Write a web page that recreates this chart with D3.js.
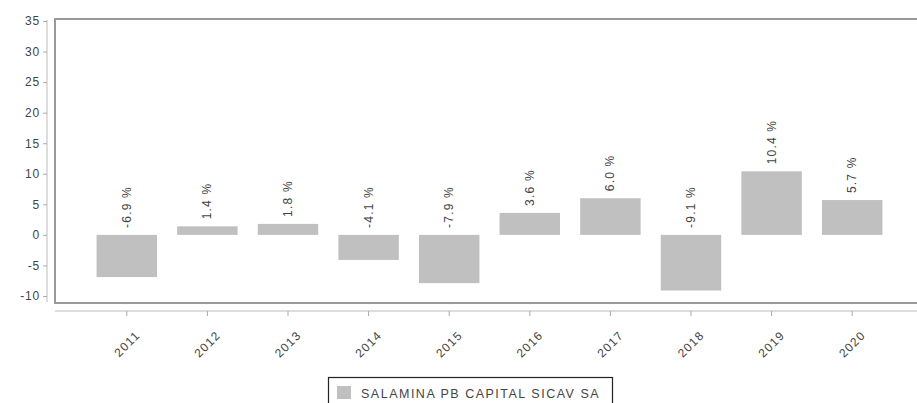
<!DOCTYPE html>
<html><head><meta charset="utf-8">
<script src="https://cdn.jsdelivr.net/npm/d3@7"></script>
<style>
body{margin:0;background:#fff;}
text{font-family:"Liberation Sans",Arial,sans-serif;fill:#444;}
</style></head>
<body>
<svg id="c" width="917" height="403"></svg>
<script>
const categories = ["2011","2012","2013","2014","2015","2016","2017","2018","2019","2020"];
const values = [-6.9, 1.4, 1.8, -4.1, -7.9, 3.6, 6.0, -9.1, 10.4, 5.7];
const yTicks = [-10,-5,0,5,10,15,20,25,30,35];
const seriesName = "SALAMINA PB CAPITAL SICAV SA";

const svg = d3.select("#c");
const y = d3.scaleLinear().domain([-10,35]).range([296,21]);
const x = d3.scaleBand().domain(categories).range([86.5,892.5]).paddingInner(0.25).paddingOuter(0.125);

// plot box
svg.append("rect").attr("x",55).attr("y",19).attr("width",900).attr("height",284)
  .attr("fill","none").attr("stroke","#999").attr("stroke-width",2);

// y axis
const yAxis = svg.append("g").attr("transform","translate(47,0)")
  .call(d3.axisLeft(y).tickValues(yTicks).tickFormat(d=>String(d)).tickSize(4).tickPadding(3));
yAxis.select(".domain").attr("stroke","#bbb").attr("d","M0,20V302");
yAxis.selectAll(".tick line").attr("stroke","#aaa");
yAxis.selectAll(".tick text").style("font-size","12px").style("letter-spacing","0.8px").attr("fill","#555");

// x axis
const xAxis = svg.append("g").attr("transform","translate(0,311)")
  .call(d3.axisBottom(x).tickSize(5).tickSizeOuter(0));
xAxis.select(".domain").attr("stroke","#bbb").attr("d","M55,0H917");
xAxis.selectAll(".tick line").attr("stroke","#aaa");
xAxis.selectAll(".tick text")
  .style("font-size","12px").style("letter-spacing","1.2px").attr("fill","#555")
  .attr("text-anchor","end").attr("y",0).attr("dy",0)
  .attr("transform","translate(14,25) rotate(-45)");

// bars
svg.append("g").selectAll("rect").data(values).join("rect")
  .attr("x",(d,i)=>x(categories[i]))
  .attr("width",x.bandwidth())
  .attr("y",d=>y(Math.max(0,d)))
  .attr("height",d=>Math.abs(y(d)-y(0)))
  .attr("fill","#c0c0c0");

// value labels
svg.append("g").selectAll("text").data(values).join("text")
  .attr("transform",(d,i)=>`translate(${x(categories[i])+x.bandwidth()/2+4},${y(Math.max(0,d))-7}) rotate(-90)`)
  .attr("text-anchor","start")
  .style("font-size","12px").style("letter-spacing","1.2px").attr("fill","#222")
  .text(d=>d.toFixed(1)+" %");

// legend
const lg = svg.append("g");
lg.append("rect").attr("x",328.5).attr("y",377.5).attr("width",284).attr("height",40)
  .attr("fill","#fff").attr("stroke","#222").attr("stroke-width",1.2);
lg.append("rect").attr("x",337).attr("y",386).attr("width",14).attr("height",13).attr("fill","#c0c0c0");
lg.append("text").attr("x",361).attr("y",397.5).style("font-size","12.5px").style("letter-spacing","1.5px")
  .attr("fill","#555").text(seriesName);
</script>
</body></html>
